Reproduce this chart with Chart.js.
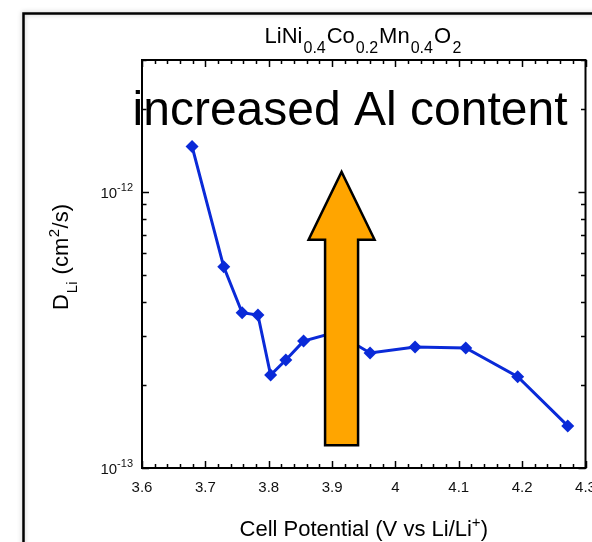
<!DOCTYPE html>
<html><head><meta charset="utf-8">
<script src="https://cdn.jsdelivr.net/npm/chart.js@4.4.0/dist/chart.umd.min.js"></script>
<style>html,body{margin:0;padding:0;background:#fff;}canvas{display:block;}</style>
</head><body>
<canvas id="c" width="592" height="542"></canvas>
<script>
// ---- data ----
const potentialV  = [3.679, 3.729, 3.758, 3.783, 3.803, 3.827, 3.855, 3.905, 3.960, 4.031, 4.111, 4.193, 4.272];
const diffusivity = [1.46e-12, 5.35e-13, 3.65e-13, 3.58e-13, 2.17e-13, 2.46e-13, 2.88e-13, 3.10e-13, 2.61e-13, 2.74e-13, 2.72e-13, 2.14e-13, 1.42e-13];
const xTickValues = [3.6, 3.7, 3.8, 3.9, 4.0, 4.1, 4.2, 4.3];
const xTickLabels = ['3.6', '3.7', '3.8', '3.9', '4', '4.1', '4.2', '4.3'];
const yTickExponents = [-13, -12];
const arrowX = [3.915];
const arrowY = [1.21e-13, 6.7e-13, 1.18e-12]; // tail, head base, tip

const FONT = '"Liberation Sans", Arial, Helvetica, sans-serif';

function drawSegments(ctx, segs, x, y, align) {
  let total = 0;
  segs.forEach(s => { ctx.font = s[1] + 'px ' + FONT; s.w = ctx.measureText(s[0]).width + (s[3] || 0); total += s.w; });
  let cx = align === 'right' ? x - total : (align === 'left' ? x : x - total / 2);
  ctx.textAlign = 'left';
  ctx.textBaseline = 'alphabetic';
  segs.forEach(s => { ctx.font = s[1] + 'px ' + FONT; ctx.fillText(s[0], cx + (s[3] || 0) / 2, y + s[2]); cx += s.w; });
}

const decor = {
  id: 'decor',
  beforeDraw(chart) {
    const ctx = chart.ctx;
    ctx.save();
    ctx.fillStyle = '#fff';
    ctx.fillRect(0, 0, chart.width, chart.height);
    ctx.shadowColor = 'rgba(0,0,0,0.25)';
    ctx.shadowBlur = 5;
    ctx.strokeStyle = '#000';
    ctx.lineWidth = 2.5;
    ctx.beginPath();
    ctx.moveTo(23.5, chart.height + 5);
    ctx.lineTo(23.5, 13.5);
    ctx.lineTo(chart.width + 5, 13.5);
    ctx.stroke();
    ctx.restore();
  },
  afterDatasetsDraw(chart) {
    const ctx = chart.ctx, xs = chart.scales.x, ys = chart.scales.y, a = chart.chartArea;
    ctx.save();
    // arrow (placed through the scales)
    const cx = xs.getPixelForValue(arrowX[0]);
    const yTail = ys.getPixelForValue(arrowY[0]);
    const yBase = ys.getPixelForValue(arrowY[1]);
    const yTip = ys.getPixelForValue(arrowY[2]);
    const sw = 16.5, hw = 33;
    ctx.beginPath();
    ctx.moveTo(cx - sw, yTail);
    ctx.lineTo(cx - sw, yBase);
    ctx.lineTo(cx - hw, yBase);
    ctx.lineTo(cx, yTip);
    ctx.lineTo(cx + hw, yBase);
    ctx.lineTo(cx + sw, yBase);
    ctx.lineTo(cx + sw, yTail);
    ctx.closePath();
    ctx.fillStyle = '#ffa500';
    ctx.fill();
    ctx.lineWidth = 2.5;
    ctx.lineJoin = 'miter';
    ctx.strokeStyle = '#000';
    ctx.stroke();

    // plot frame
    ctx.lineWidth = 2;
    ctx.strokeRect(a.left, a.top, a.right - a.left, a.bottom - a.top);

    // x ticks (bottom & top, inward)
    ctx.lineWidth = 1.5;
    ctx.beginPath();
    for (let i = 0; i <= 35; i++) {
      const v = 3.6 + i * 0.02;
      const px = Math.round(xs.getPixelForValue(v)) + 0.5;
      const len = (i % 5 === 0) ? 7 : 4;
      ctx.moveTo(px, a.bottom); ctx.lineTo(px, a.bottom - len);
      ctx.moveTo(px, a.top); ctx.lineTo(px, a.top + len);
    }
    // y ticks (left & right, inward)
    const yMinor = [];
    for (let d = -13; d <= -12; d++) for (let m = 1; m <= 9; m++) {
      const v = m * Math.pow(10, d);
      if (v >= 1e-13 * 0.999 && v <= 3e-12 * 1.001) yMinor.push([v, m === 1]);
    }
    yMinor.forEach(([v, major]) => {
      const py = Math.round(ys.getPixelForValue(v)) + 0.5;
      const len = major ? 7 : 4.5;
      ctx.moveTo(a.left, py); ctx.lineTo(a.left + len, py);
      ctx.moveTo(a.right, py); ctx.lineTo(a.right - len, py);
    });
    ctx.stroke();

    // big annotation text
    ctx.fillStyle = '#000';
    ctx.font = '48px ' + FONT;
    ctx.textAlign = 'center';
    ctx.textBaseline = 'alphabetic';
    ctx.fillText('increased Al content', 350, 125);

    // x tick labels
    ctx.fillStyle = '#111';
    ctx.font = '15px ' + FONT;
    ctx.textBaseline = 'middle';
    xTickValues.forEach((v, i) => {
      ctx.fillText(xTickLabels[i], xs.getPixelForValue(v), a.bottom + 20);
    });
    // y tick labels with superscripts
    yTickExponents.forEach(e => {
      const py = ys.getPixelForValue(Math.pow(10, e));
      drawSegments(ctx, [['10', 15, 0], [String(e), 11, -7]], a.left - 9, py + 6, 'right');
    });

    // title
    ctx.fillStyle = '#000';
    const mid = (a.left + a.right) / 2;
    drawSegments(ctx, [['LiNi', 22, 0], ['0.4', 16, 10, 2], ['Co', 22, 0], ['0.2', 16, 10, 2], ['Mn', 22, 0], ['0.4', 16, 10, 2], ['O', 22, 0], ['2', 16, 10, 3]], mid, 43, 'center');
    // x title
    drawSegments(ctx, [['Cell Potential (V vs Li/Li', 22, 0], ['+', 15, -9], [')', 22, 0]], mid, 536, 'center');
    // y title (rotated)
    ctx.save();
    ctx.translate(68, 257);
    ctx.rotate(-Math.PI / 2);
    drawSegments(ctx, [['D', 22, 0], ['Li', 15, 9, 2], [' (cm', 22, 0], ['2', 15, -9, 1], ['/s)', 22, 0]], 0, 0, 'center');
    ctx.restore();
    ctx.restore();
  }
};

new Chart(document.getElementById('c'), {
  type: 'scatter',
  data: {
    datasets: [{
      data: potentialV.map((x, i) => ({ x: x, y: diffusivity[i] })),
      showLine: true,
      borderColor: '#0a2ad8',
      backgroundColor: '#0a2ad8',
      borderWidth: 3,
      pointStyle: 'rectRot',
      pointRadius: 6.5,
      pointBorderWidth: 0,
      tension: 0
    }]
  },
  options: {
    responsive: false,
    animation: false,
    devicePixelRatio: 1,
    layout: { padding: { left: 142, right: 6, top: 60, bottom: 74 } },
    plugins: { legend: { display: false }, tooltip: { enabled: false }, title: { display: false } },
    scales: {
      x: { type: 'linear', min: 3.6, max: 4.3, display: false },
      y: { type: 'logarithmic', min: 1e-13, max: 3e-12, display: false }
    }
  },
  plugins: [decor]
});
</script>
</body></html>
